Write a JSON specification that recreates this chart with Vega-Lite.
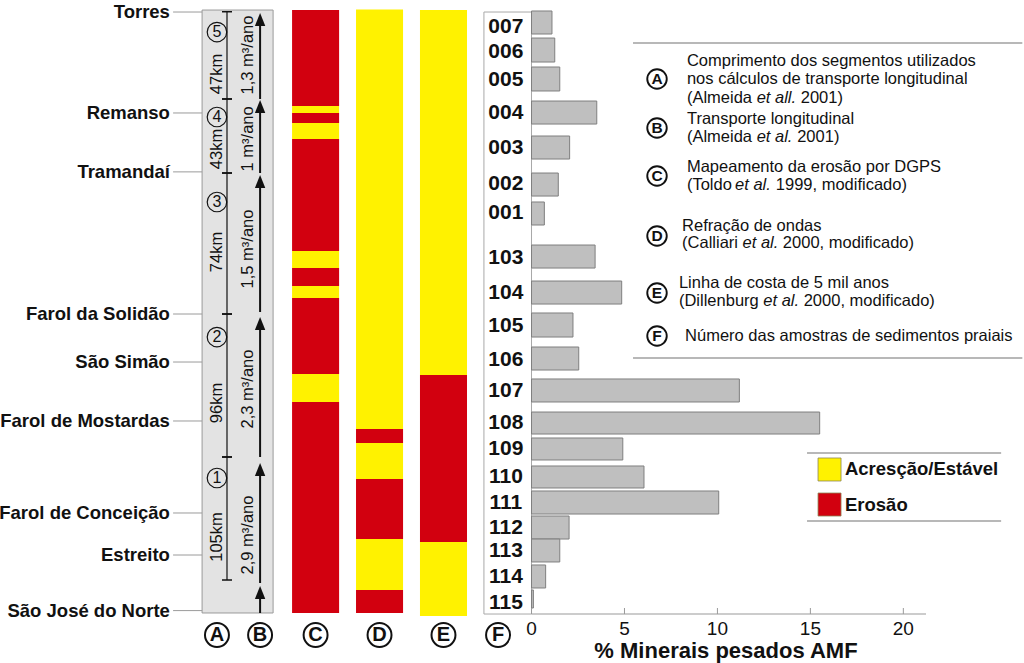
{
  "$schema": "https://vega.github.io/schema/vega-lite/v6.json",
  "width": 1024,
  "height": 663,
  "autosize": {"type": "none"},
  "padding": 0,
  "background": "white",
  "config": {"view": {"stroke": null}, "text": {"font": "Liberation Sans", "color": "#111111"}},
  "datasets": {
    "places": [
      {"place": "Torres", "pos": 100.0},
      {"place": "Remanso", "pos": 83.2},
      {"place": "Tramandaí", "pos": 73.4},
      {"place": "Farol da Solidão", "pos": 49.75},
      {"place": "São Simão", "pos": 41.76},
      {"place": "Farol de Mostardas", "pos": 31.95},
      {"place": "Farol de Conceição", "pos": 16.64},
      {"place": "Estreito", "pos": 9.65},
      {"place": "São José do Norte", "pos": 0.4}
    ],
    "segments": [
      {"seg": "5", "km": "47km", "rate": "1,3 m³/ano", "start": 85.53, "end": 100.05, "numPos": 96.67, "kmPos": 89.69, "ratePos": 92.85},
      {"seg": "4", "km": "43km", "rate": "1 m³/ano", "start": 73.21, "end": 85.53, "numPos": 82.53, "kmPos": 77.2, "ratePos": 78.9},
      {"seg": "3", "km": "74km", "rate": "1,5 m³/ano", "start": 49.75, "end": 73.21, "numPos": 68.39, "kmPos": 60.07, "ratePos": 60.57},
      {"seg": "2", "km": "96km", "rate": "2,3 m³/ano", "start": 25.96, "end": 49.75, "numPos": 45.92, "kmPos": 34.94, "ratePos": 37.27},
      {"seg": "1", "km": "105km", "rate": "2,9 m³/ano", "start": 5.49, "end": 25.96, "numPos": 22.46, "kmPos": 12.65, "ratePos": 12.98}
    ],
    "arrows": [
      {"from": 0, "tip": 4.49},
      {"from": 4.99, "tip": 24.96},
      {"from": 25.96, "tip": 49.25},
      {"from": 50.08, "tip": 72.88},
      {"from": 73.21, "tip": 85.36},
      {"from": 85.53, "tip": 99.83}
    ],
    "columns": [
      {"col": "A", "center": -16.92},
      {"col": "B", "center": -14.6},
      {"col": "C", "center": -11.615},
      {"col": "D", "center": -8.175},
      {"col": "E", "center": -4.735},
      {"col": "F", "center": -1.8}
    ],
    "coast": [
      {"col": "C", "from": 100.33, "to": 84.36, "status": "Erosão"},
      {"col": "C", "from": 84.36, "to": 83.2, "status": "Acresção/Estável"},
      {"col": "C", "from": 83.2, "to": 81.53, "status": "Erosão"},
      {"col": "C", "from": 81.53, "to": 78.87, "status": "Acresção/Estável"},
      {"col": "C", "from": 78.87, "to": 60.23, "status": "Erosão"},
      {"col": "C", "from": 60.23, "to": 57.4, "status": "Acresção/Estável"},
      {"col": "C", "from": 57.4, "to": 54.41, "status": "Erosão"},
      {"col": "C", "from": 54.41, "to": 52.41, "status": "Acresção/Estável"},
      {"col": "C", "from": 52.41, "to": 39.77, "status": "Erosão"},
      {"col": "C", "from": 39.77, "to": 35.11, "status": "Acresção/Estável"},
      {"col": "C", "from": 35.11, "to": 0, "status": "Erosão"},
      {"col": "D", "from": 100.4, "to": 30.62, "status": "Acresção/Estável"},
      {"col": "D", "from": 30.62, "to": 28.29, "status": "Erosão"},
      {"col": "D", "from": 28.29, "to": 22.3, "status": "Acresção/Estável"},
      {"col": "D", "from": 22.3, "to": 12.31, "status": "Erosão"},
      {"col": "D", "from": 12.31, "to": 3.83, "status": "Acresção/Estável"},
      {"col": "D", "from": 3.83, "to": 0, "status": "Erosão"},
      {"col": "E", "from": 100.33, "to": 39.6, "status": "Acresção/Estável"},
      {"col": "E", "from": 39.6, "to": 11.81, "status": "Erosão"},
      {"col": "E", "from": 11.81, "to": -0.5, "status": "Acresção/Estável"}
    ],
    "samples": [
      {"sample": "007", "amf": 1.1, "pos": 97.5, "top": 100.17, "bottom": 96.34},
      {"sample": "006", "amf": 1.25, "pos": 93.35, "top": 95.67, "bottom": 91.68},
      {"sample": "005", "amf": 1.52, "pos": 88.69, "top": 90.85, "bottom": 86.86},
      {"sample": "004", "amf": 3.51, "pos": 83.2, "top": 85.19, "bottom": 81.36},
      {"sample": "003", "amf": 2.05, "pos": 77.37, "top": 79.37, "bottom": 75.54},
      {"sample": "002", "amf": 1.44, "pos": 71.38, "top": 73.21, "bottom": 69.38},
      {"sample": "001", "amf": 0.69, "pos": 66.56, "top": 68.39, "bottom": 64.56},
      {"sample": "103", "amf": 3.42, "pos": 59.07, "top": 61.23, "bottom": 57.4},
      {"sample": "104", "amf": 4.85, "pos": 53.24, "top": 55.24, "bottom": 51.41},
      {"sample": "105", "amf": 2.23, "pos": 47.75, "top": 49.92, "bottom": 45.92},
      {"sample": "106", "amf": 2.54, "pos": 42.1, "top": 44.26, "bottom": 40.43},
      {"sample": "107", "amf": 11.18, "pos": 36.94, "top": 38.94, "bottom": 35.11},
      {"sample": "108", "amf": 15.5, "pos": 31.61, "top": 33.44, "bottom": 29.78},
      {"sample": "109", "amf": 4.91, "pos": 27.29, "top": 29.12, "bottom": 25.46},
      {"sample": "110", "amf": 6.05, "pos": 22.63, "top": 24.46, "bottom": 20.8},
      {"sample": "111", "amf": 10.07, "pos": 18.3, "top": 20.3, "bottom": 16.47},
      {"sample": "112", "amf": 2.02, "pos": 14.14, "top": 16.14, "bottom": 12.31},
      {"sample": "113", "amf": 1.52, "pos": 10.32, "top": 12.31, "bottom": 8.49},
      {"sample": "114", "amf": 0.76, "pos": 5.99, "top": 7.99, "bottom": 4.16},
      {"sample": "115", "amf": 0.1, "pos": 1.66, "top": 3.83, "bottom": 0.83}
    ],
    "ticks": [{"tick": 0}, {"tick": 5}, {"tick": 10}, {"tick": 15}, {"tick": 20}],
    "sources": [
      {"letter": "A", "pos": 88.85},
      {"letter": "B", "pos": 80.7},
      {"letter": "C", "pos": 72.71},
      {"letter": "D", "pos": 62.73},
      {"letter": "E", "pos": 53.24},
      {"letter": "F", "pos": 46.09}
    ],
    "sourceText": [
      {"text": "Comprimento dos segmentos utilizados", "x": 8.36, "pos": 91.85},
      {"text": "nos cálculos de transporte longitudinal", "x": 8.36, "pos": 88.85},
      {"text": "(Almeida", "x": 8.36, "pos": 85.69},
      {"text": "2001)", "x": 14.48, "pos": 85.69},
      {"text": "Transporte longitudinal", "x": 8.36, "pos": 82.2},
      {"text": "(Almeida", "x": 8.36, "pos": 79.2},
      {"text": "2001)", "x": 14.29, "pos": 79.2},
      {"text": "Mapeamento da erosão por DGPS", "x": 8.36, "pos": 74.21},
      {"text": "(Toldo", "x": 8.36, "pos": 71.21},
      {"text": "1999, modificado)", "x": 13.14, "pos": 71.21},
      {"text": "Refração de ondas", "x": 8.1, "pos": 64.39},
      {"text": "(Calliari", "x": 8.1, "pos": 61.56},
      {"text": "2000, modificado)", "x": 13.52, "pos": 61.56},
      {"text": "Linha de costa de 5 mil anos", "x": 7.93, "pos": 54.91},
      {"text": "(Dillenburg", "x": 7.93, "pos": 51.91},
      {"text": "2000, modificado)", "x": 14.64, "pos": 51.91},
      {"text": "Número das amostras de sedimentos praiais", "x": 8.26, "pos": 46.09}
    ],
    "sourceItalic": [
      {"text": "et all.", "x": 12.11, "pos": 85.69},
      {"text": "et al.", "x": 12.11, "pos": 79.2},
      {"text": "et al.", "x": 10.95, "pos": 71.21},
      {"text": "et al.", "x": 11.35, "pos": 61.56},
      {"text": "et al.", "x": 12.47, "pos": 51.91}
    ],
    "statusLegend": [
      {"status": "Acresção/Estável", "pos": 23.88},
      {"status": "Erosão", "pos": 18.05}
    ]
  },
  "layer": [
    {
      "data": {"values": [{"panel": "A-B"}]},
      "mark": {"type": "rect", "fill": "#e3e3e3", "stroke": "#9a9a9a", "strokeWidth": 1},
      "encoding": {
        "x": {"datum": -17.72, "type": "quantitative", "scale": {"domain": [-28.59, 26.49], "nice": false, "zero": false}, "axis": null},
        "x2": {"datum": -13.9},
        "y": {"datum": 100.33, "type": "quantitative", "scale": {"domain": [-8.32, 102.0], "nice": false, "zero": false}, "axis": null},
        "y2": {"datum": 0}
      }
    },
    {
      "data": {"values": [{"panel": "F"}]},
      "mark": {"type": "rect", "fill": "white", "stroke": "#a8a8a8", "strokeWidth": 1},
      "encoding": {
        "x": {"datum": -2.56, "type": "quantitative", "scale": {"domain": [-28.59, 26.49], "nice": false, "zero": false}, "axis": null},
        "x2": {"datum": 0},
        "y": {"datum": 100.0, "type": "quantitative", "scale": {"domain": [-8.32, 102.0], "nice": false, "zero": false}, "axis": null},
        "y2": {"datum": -0.17}
      }
    },
    {
      "data": {"name": "coast"},
      "transform": [{"filter": "datum.col === 'C'"}],
      "mark": {"type": "rect"},
      "encoding": {
        "x": {"datum": -12.88, "type": "quantitative", "scale": {"domain": [-28.59, 26.49], "nice": false, "zero": false}, "axis": null},
        "x2": {"datum": -10.35},
        "y": {"field": "from", "type": "quantitative", "scale": {"domain": [-8.32, 102.0], "nice": false, "zero": false}, "axis": null},
        "y2": {"field": "to"},
        "color": {"field": "status", "type": "nominal", "scale": {"domain": ["Acresção/Estável", "Erosão"], "range": ["#fff200", "#d2000f"]}, "legend": null}
      }
    },
    {
      "data": {"name": "coast"},
      "transform": [{"filter": "datum.col === 'D'"}],
      "mark": {"type": "rect"},
      "encoding": {
        "x": {"datum": -9.44, "type": "quantitative", "scale": {"domain": [-28.59, 26.49], "nice": false, "zero": false}, "axis": null},
        "x2": {"datum": -6.91},
        "y": {"field": "from", "type": "quantitative", "scale": {"domain": [-8.32, 102.0], "nice": false, "zero": false}, "axis": null},
        "y2": {"field": "to"},
        "color": {"field": "status", "type": "nominal", "scale": {"domain": ["Acresção/Estável", "Erosão"], "range": ["#fff200", "#d2000f"]}, "legend": null}
      }
    },
    {
      "data": {"name": "coast"},
      "transform": [{"filter": "datum.col === 'E'"}],
      "mark": {"type": "rect"},
      "encoding": {
        "x": {"datum": -6.0, "type": "quantitative", "scale": {"domain": [-28.59, 26.49], "nice": false, "zero": false}, "axis": null},
        "x2": {"datum": -3.47},
        "y": {"field": "from", "type": "quantitative", "scale": {"domain": [-8.32, 102.0], "nice": false, "zero": false}, "axis": null},
        "y2": {"field": "to"},
        "color": {"field": "status", "type": "nominal", "scale": {"domain": ["Acresção/Estável", "Erosão"], "range": ["#fff200", "#d2000f"]}, "legend": null}
      }
    },
    {
      "data": {"name": "places"},
      "mark": {"type": "rule", "stroke": "#9a9a9a", "strokeWidth": 1},
      "encoding": {
        "x": {"datum": -19.28, "type": "quantitative", "scale": {"domain": [-28.59, 26.49], "nice": false, "zero": false}, "axis": null},
        "x2": {"datum": -17.72},
        "y": {"field": "pos", "type": "quantitative", "scale": {"domain": [-8.32, 102.0], "nice": false, "zero": false}, "axis": null}
      }
    },
    {
      "data": {"name": "places"},
      "mark": {"type": "text", "align": "right", "baseline": "middle", "fontSize": 18.5, "fontWeight": "bold"},
      "encoding": {
        "x": {"datum": -19.45, "type": "quantitative", "scale": {"domain": [-28.59, 26.49], "nice": false, "zero": false}, "axis": null},
        "y": {"field": "pos", "type": "quantitative", "scale": {"domain": [-8.32, 102.0], "nice": false, "zero": false}, "axis": null},
        "text": {"field": "place"}
      }
    },
    {
      "data": {"values": [{"line": "A"}]},
      "mark": {"type": "rule", "stroke": "#111111", "strokeWidth": 1.2},
      "encoding": {
        "x": {"datum": -16.38, "type": "quantitative", "scale": {"domain": [-28.59, 26.49], "nice": false, "zero": false}, "axis": null},
        "y": {"datum": 100.05, "type": "quantitative", "scale": {"domain": [-8.32, 102.0], "nice": false, "zero": false}, "axis": null},
        "y2": {"datum": 5.49}
      }
    },
    {
      "data": {"name": "segments"},
      "mark": {"type": "rule", "stroke": "#111111", "strokeWidth": 1.5},
      "encoding": {
        "x": {"datum": -16.65, "type": "quantitative", "scale": {"domain": [-28.59, 26.49], "nice": false, "zero": false}, "axis": null},
        "x2": {"datum": -16.11},
        "y": {"field": "start", "type": "quantitative", "scale": {"domain": [-8.32, 102.0], "nice": false, "zero": false}, "axis": null}
      }
    },
    {
      "data": {"name": "segments"},
      "mark": {"type": "rule", "stroke": "#111111", "strokeWidth": 1.5},
      "encoding": {
        "x": {"datum": -16.65, "type": "quantitative", "scale": {"domain": [-28.59, 26.49], "nice": false, "zero": false}, "axis": null},
        "x2": {"datum": -16.11},
        "y": {"field": "end", "type": "quantitative", "scale": {"domain": [-8.32, 102.0], "nice": false, "zero": false}, "axis": null}
      }
    },
    {
      "data": {"name": "segments"},
      "mark": {"type": "point", "shape": "circle", "filled": false, "stroke": "#111111", "strokeWidth": 1.2, "size": 380, "opacity": 1},
      "encoding": {
        "x": {"datum": -16.92, "type": "quantitative", "scale": {"domain": [-28.59, 26.49], "nice": false, "zero": false}, "axis": null},
        "y": {"field": "numPos", "type": "quantitative", "scale": {"domain": [-8.32, 102.0], "nice": false, "zero": false}, "axis": null}
      }
    },
    {
      "data": {"name": "segments"},
      "mark": {"type": "text", "align": "center", "baseline": "middle", "fontSize": 16},
      "encoding": {
        "x": {"datum": -16.92, "type": "quantitative", "scale": {"domain": [-28.59, 26.49], "nice": false, "zero": false}, "axis": null},
        "y": {"field": "numPos", "type": "quantitative", "scale": {"domain": [-8.32, 102.0], "nice": false, "zero": false}, "axis": null},
        "text": {"field": "seg"}
      }
    },
    {
      "data": {"name": "segments"},
      "mark": {"type": "text", "align": "center", "baseline": "middle", "fontSize": 16.5, "angle": 270},
      "encoding": {
        "x": {"datum": -16.92, "type": "quantitative", "scale": {"domain": [-28.59, 26.49], "nice": false, "zero": false}, "axis": null},
        "y": {"field": "kmPos", "type": "quantitative", "scale": {"domain": [-8.32, 102.0], "nice": false, "zero": false}, "axis": null},
        "text": {"field": "km"}
      }
    },
    {
      "data": {"name": "segments"},
      "mark": {"type": "text", "align": "center", "baseline": "middle", "fontSize": 16.5, "angle": 270},
      "encoding": {
        "x": {"datum": -15.25, "type": "quantitative", "scale": {"domain": [-28.59, 26.49], "nice": false, "zero": false}, "axis": null},
        "y": {"field": "ratePos", "type": "quantitative", "scale": {"domain": [-8.32, 102.0], "nice": false, "zero": false}, "axis": null},
        "text": {"field": "rate"}
      }
    },
    {
      "data": {"name": "arrows"},
      "mark": {"type": "rule", "stroke": "#111111", "strokeWidth": 2, "y2Offset": 6},
      "encoding": {
        "x": {"datum": -14.6, "type": "quantitative", "scale": {"domain": [-28.59, 26.49], "nice": false, "zero": false}, "axis": null},
        "y": {"field": "from", "type": "quantitative", "scale": {"domain": [-8.32, 102.0], "nice": false, "zero": false}, "axis": null},
        "y2": {"field": "tip"}
      }
    },
    {
      "data": {"name": "arrows"},
      "mark": {"type": "point", "shape": "M0,-1L0.8,1L-0.8,1Z", "size": 169, "filled": true, "color": "#111111", "opacity": 1, "yOffset": 6.5},
      "encoding": {
        "x": {"datum": -14.6, "type": "quantitative", "scale": {"domain": [-28.59, 26.49], "nice": false, "zero": false}, "axis": null},
        "y": {"field": "tip", "type": "quantitative", "scale": {"domain": [-8.32, 102.0], "nice": false, "zero": false}, "axis": null}
      }
    },
    {
      "data": {"name": "samples"},
      "mark": {"type": "rect", "fill": "#bfbfbf", "stroke": "#7f7f7f", "strokeWidth": 1},
      "encoding": {
        "x": {"field": "amf", "type": "quantitative", "scale": {"domain": [-28.59, 26.49], "nice": false, "zero": false}, "axis": null},
        "x2": {"datum": 0},
        "y": {"field": "top", "type": "quantitative", "scale": {"domain": [-8.32, 102.0], "nice": false, "zero": false}, "axis": null},
        "y2": {"field": "bottom"}
      }
    },
    {
      "data": {"name": "samples"},
      "mark": {"type": "text", "align": "center", "baseline": "middle", "fontSize": 21, "fontWeight": "bold"},
      "encoding": {
        "x": {"datum": -1.38, "type": "quantitative", "scale": {"domain": [-28.59, 26.49], "nice": false, "zero": false}, "axis": null},
        "y": {"field": "pos", "type": "quantitative", "scale": {"domain": [-8.32, 102.0], "nice": false, "zero": false}, "axis": null},
        "text": {"field": "sample"}
      }
    },
    {
      "data": {"values": [{"axis": "AMF"}]},
      "mark": {"type": "rule", "stroke": "#9a9a9a", "strokeWidth": 1.2},
      "encoding": {
        "x": {"datum": 0, "type": "quantitative", "scale": {"domain": [-28.59, 26.49], "nice": false, "zero": false}, "axis": null},
        "x2": {"datum": 21.22},
        "y": {"datum": -0.17, "type": "quantitative", "scale": {"domain": [-8.32, 102.0], "nice": false, "zero": false}, "axis": null}
      }
    },
    {
      "data": {"name": "ticks"},
      "mark": {"type": "rule", "stroke": "#9a9a9a", "strokeWidth": 1},
      "encoding": {
        "x": {"field": "tick", "type": "quantitative", "scale": {"domain": [-28.59, 26.49], "nice": false, "zero": false}, "axis": null},
        "y": {"datum": -0.17, "type": "quantitative", "scale": {"domain": [-8.32, 102.0], "nice": false, "zero": false}, "axis": null},
        "y2": {"datum": 0.83}
      }
    },
    {
      "data": {"name": "ticks"},
      "mark": {"type": "text", "align": "center", "baseline": "middle", "fontSize": 19},
      "encoding": {
        "x": {"field": "tick", "type": "quantitative", "scale": {"domain": [-28.59, 26.49], "nice": false, "zero": false}, "axis": null},
        "y": {"datum": -2.66, "type": "quantitative", "scale": {"domain": [-8.32, 102.0], "nice": false, "zero": false}, "axis": null},
        "text": {"field": "tick"}
      }
    },
    {
      "data": {"values": [{"title": "% Minerais pesados AMF"}]},
      "mark": {"type": "text", "align": "center", "baseline": "middle", "fontSize": 22, "fontWeight": "bold"},
      "encoding": {
        "x": {"datum": 10.46, "type": "quantitative", "scale": {"domain": [-28.59, 26.49], "nice": false, "zero": false}, "axis": null},
        "y": {"datum": -6.32, "type": "quantitative", "scale": {"domain": [-8.32, 102.0], "nice": false, "zero": false}, "axis": null},
        "text": {"field": "title"}
      }
    },
    {
      "data": {"name": "columns"},
      "mark": {"type": "point", "shape": "circle", "filled": false, "stroke": "#111111", "strokeWidth": 2, "size": 573, "opacity": 1},
      "encoding": {
        "x": {"field": "center", "type": "quantitative", "scale": {"domain": [-28.59, 26.49], "nice": false, "zero": false}, "axis": null},
        "y": {"datum": -3.66, "type": "quantitative", "scale": {"domain": [-8.32, 102.0], "nice": false, "zero": false}, "axis": null}
      }
    },
    {
      "data": {"name": "columns"},
      "mark": {"type": "text", "align": "center", "baseline": "middle", "fontSize": 20, "fontWeight": "bold"},
      "encoding": {
        "x": {"field": "center", "type": "quantitative", "scale": {"domain": [-28.59, 26.49], "nice": false, "zero": false}, "axis": null},
        "y": {"datum": -3.66, "type": "quantitative", "scale": {"domain": [-8.32, 102.0], "nice": false, "zero": false}, "axis": null},
        "text": {"field": "col"}
      }
    },
    {
      "data": {"values": [{"rule": "top", "pos": 94.84}, {"rule": "bottom", "pos": 42.43}]},
      "mark": {"type": "rule", "stroke": "#a0a0a0", "strokeWidth": 1.5},
      "encoding": {
        "x": {"datum": 5.46, "type": "quantitative", "scale": {"domain": [-28.59, 26.49], "nice": false, "zero": false}, "axis": null},
        "x2": {"datum": 26.4},
        "y": {"field": "pos", "type": "quantitative", "scale": {"domain": [-8.32, 102.0], "nice": false, "zero": false}, "axis": null}
      }
    },
    {
      "data": {"name": "sources"},
      "mark": {"type": "point", "shape": "circle", "filled": false, "stroke": "#111111", "strokeWidth": 1.9, "size": 380, "opacity": 1},
      "encoding": {
        "x": {"datum": 6.75, "type": "quantitative", "scale": {"domain": [-28.59, 26.49], "nice": false, "zero": false}, "axis": null},
        "y": {"field": "pos", "type": "quantitative", "scale": {"domain": [-8.32, 102.0], "nice": false, "zero": false}, "axis": null}
      }
    },
    {
      "data": {"name": "sources"},
      "mark": {"type": "text", "align": "center", "baseline": "middle", "fontSize": 15.5, "fontWeight": "bold"},
      "encoding": {
        "x": {"datum": 6.75, "type": "quantitative", "scale": {"domain": [-28.59, 26.49], "nice": false, "zero": false}, "axis": null},
        "y": {"field": "pos", "type": "quantitative", "scale": {"domain": [-8.32, 102.0], "nice": false, "zero": false}, "axis": null},
        "text": {"field": "letter"}
      }
    },
    {
      "data": {"name": "sourceText"},
      "mark": {"type": "text", "align": "left", "baseline": "middle", "fontSize": 16.5},
      "encoding": {
        "x": {"field": "x", "type": "quantitative", "scale": {"domain": [-28.59, 26.49], "nice": false, "zero": false}, "axis": null},
        "y": {"field": "pos", "type": "quantitative", "scale": {"domain": [-8.32, 102.0], "nice": false, "zero": false}, "axis": null},
        "text": {"field": "text"}
      }
    },
    {
      "data": {"name": "sourceItalic"},
      "mark": {"type": "text", "align": "left", "baseline": "middle", "fontSize": 16.5, "fontStyle": "italic"},
      "encoding": {
        "x": {"field": "x", "type": "quantitative", "scale": {"domain": [-28.59, 26.49], "nice": false, "zero": false}, "axis": null},
        "y": {"field": "pos", "type": "quantitative", "scale": {"domain": [-8.32, 102.0], "nice": false, "zero": false}, "axis": null},
        "text": {"field": "text"}
      }
    },
    {
      "data": {"values": [{"rule": "top", "pos": 26.62}, {"rule": "bottom", "pos": 15.31}]},
      "mark": {"type": "rule", "stroke": "#a0a0a0", "strokeWidth": 1.5},
      "encoding": {
        "x": {"datum": 14.82, "type": "quantitative", "scale": {"domain": [-28.59, 26.49], "nice": false, "zero": false}, "axis": null},
        "x2": {"datum": 25.26},
        "y": {"field": "pos", "type": "quantitative", "scale": {"domain": [-8.32, 102.0], "nice": false, "zero": false}, "axis": null}
      }
    },
    {
      "data": {"name": "statusLegend"},
      "mark": {"type": "point", "shape": "square", "filled": true, "size": 529, "opacity": 1, "stroke": "#8c8455", "strokeWidth": 0.8},
      "encoding": {
        "x": {"datum": 16.03, "type": "quantitative", "scale": {"domain": [-28.59, 26.49], "nice": false, "zero": false}, "axis": null},
        "y": {"field": "pos", "type": "quantitative", "scale": {"domain": [-8.32, 102.0], "nice": false, "zero": false}, "axis": null},
        "color": {"field": "status", "type": "nominal", "scale": {"domain": ["Acresção/Estável", "Erosão"], "range": ["#fff200", "#d2000f"]}, "legend": null}
      }
    },
    {
      "data": {"name": "statusLegend"},
      "mark": {"type": "text", "align": "left", "baseline": "middle", "fontSize": 18.5, "fontWeight": "bold"},
      "encoding": {
        "x": {"datum": 16.86, "type": "quantitative", "scale": {"domain": [-28.59, 26.49], "nice": false, "zero": false}, "axis": null},
        "y": {"field": "pos", "type": "quantitative", "scale": {"domain": [-8.32, 102.0], "nice": false, "zero": false}, "axis": null},
        "text": {"field": "status"}
      }
    }
  ]
}
